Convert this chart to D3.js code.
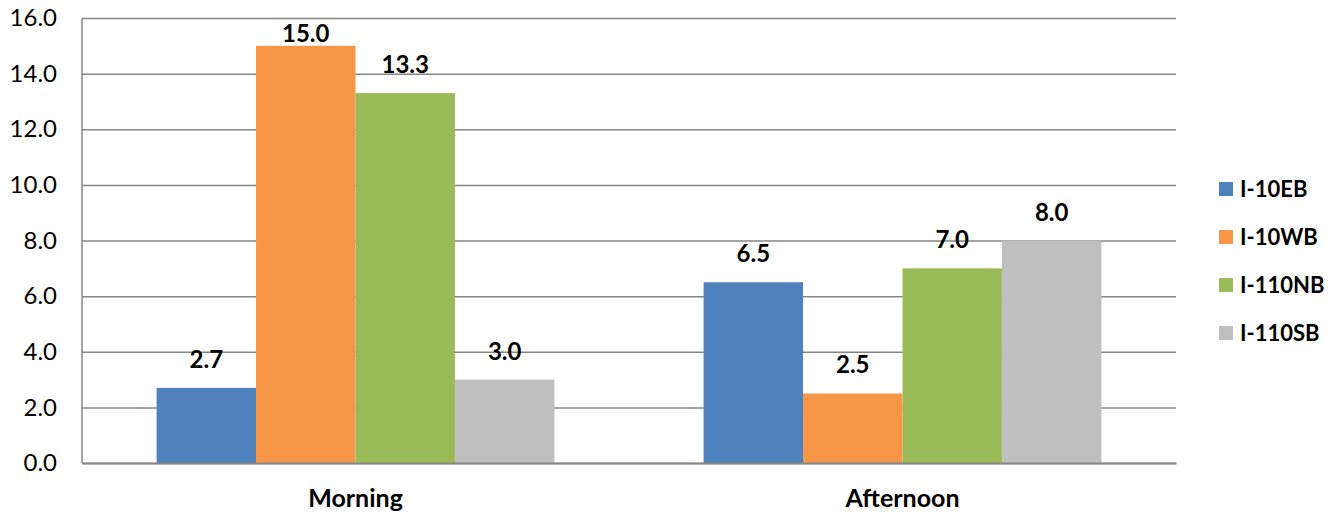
<!DOCTYPE html>
<html>
<head>
<meta charset="utf-8">
<script src="https://cdn.jsdelivr.net/npm/d3@7"></script>
<style>
  html, body { margin: 0; padding: 0; background: #fff; }
  svg { display: block; }
  text { font-family: Lato, "Open Sans", sans-serif; fill: #000; }
</style>
</head>
<body>
<svg id="chart" width="1340" height="515"></svg>
<script>
const categories = ["Morning", "Afternoon"];
const seriesNames = ["I-10EB", "I-10WB", "I-110NB", "I-110SB"];
const seriesColors = ["#4F81BD", "#F79646", "#9BBB59", "#BFBFBF"];
const valuesEB = [2.7, 6.5];
const valuesWB = [15.0, 2.5];
const valuesNB = [13.3, 7.0];
const valuesSB = [3.0, 8.0];
const yTicks = [0, 2, 4, 6, 8, 10, 12, 14, 16];

const seriesValues = [valuesEB, valuesWB, valuesNB, valuesSB];
const data = [];
categories.forEach((c, ci) => {
  seriesNames.forEach((s, si) => {
    data.push({ cat: c, series: s, value: seriesValues[si][ci], color: seriesColors[si] });
  });
});

const svg = d3.select("#chart");
const m = { left: 82, right: 1176, top: 18, bottom: 463 };

const x0 = d3.scaleBand().domain(categories).range([m.left, m.right]).paddingInner(0).paddingOuter(0);
const x1 = d3.scaleBand().domain(seriesNames).range([0, x0.bandwidth()]).paddingInner(0).paddingOuter(0.75);
const y = d3.scaleLinear().domain([0, 16]).range([m.bottom, m.top]);

// gridlines
svg.append("g")
  .attr("transform", `translate(${m.left},0)`)
  .call(d3.axisLeft(y).tickValues(yTicks).tickSize(-(m.right - m.left)).tickFormat(d3.format(".1f")).tickPadding(25))
  .call(g => g.select(".domain").remove())
  .call(g => g.selectAll(".tick line").attr("stroke", "#868686").attr("stroke-width", 1.5))
  .call(g => g.selectAll(".tick text").attr("font-size", 24).attr("font-family", "Lato, sans-serif").attr("fill", "#000"));

// left axis line
svg.append("line")
  .attr("x1", m.left).attr("x2", m.left)
  .attr("y1", m.top).attr("y2", m.bottom)
  .attr("stroke", "#868686").attr("stroke-width", 1.5);

// bars
svg.append("g").selectAll("rect")
  .data(data)
  .join("rect")
  .attr("x", d => x0(d.cat) + x1(d.series))
  .attr("y", d => y(d.value))
  .attr("width", x1.bandwidth())
  .attr("height", d => y(0) - y(d.value))
  .attr("fill", d => d.color);

// value labels
svg.append("g").selectAll("text")
  .data(data)
  .join("text")
  .attr("x", d => x0(d.cat) + x1(d.series) + x1.bandwidth() / 2)
  .attr("y", d => Math.max(y(d.value) - 20, m.top + 24))
  .attr("text-anchor", "middle")
  .attr("font-size", 24)
  .attr("font-weight", "bold")
  .text(d => d3.format(".1f")(d.value));

// bottom axis
svg.append("g")
  .attr("transform", `translate(0,${m.bottom})`)
  .call(d3.axisBottom(x0).tickSize(0).tickPadding(26))
  .call(g => g.select(".domain").attr("stroke", "#868686").attr("stroke-width", 2))
  .call(g => g.selectAll(".tick text").attr("font-size", 25).attr("font-weight", "bold").attr("font-family", "Lato, sans-serif").attr("fill", "#000"));

// legend
const legend = svg.append("g").selectAll("g")
  .data(seriesNames)
  .join("g")
  .attr("transform", (d, i) => `translate(1219,${189 + i * 48})`);
legend.append("rect")
  .attr("x", 0).attr("y", -7).attr("width", 14).attr("height", 14)
  .attr("fill", (d, i) => seriesColors[i]);
legend.append("text")
  .attr("x", 21).attr("y", 0)
  .attr("dy", "0.35em")
  .attr("font-size", 22)
  .attr("font-weight", "bold")
  .text(d => d);
</script>
</body>
</html>
